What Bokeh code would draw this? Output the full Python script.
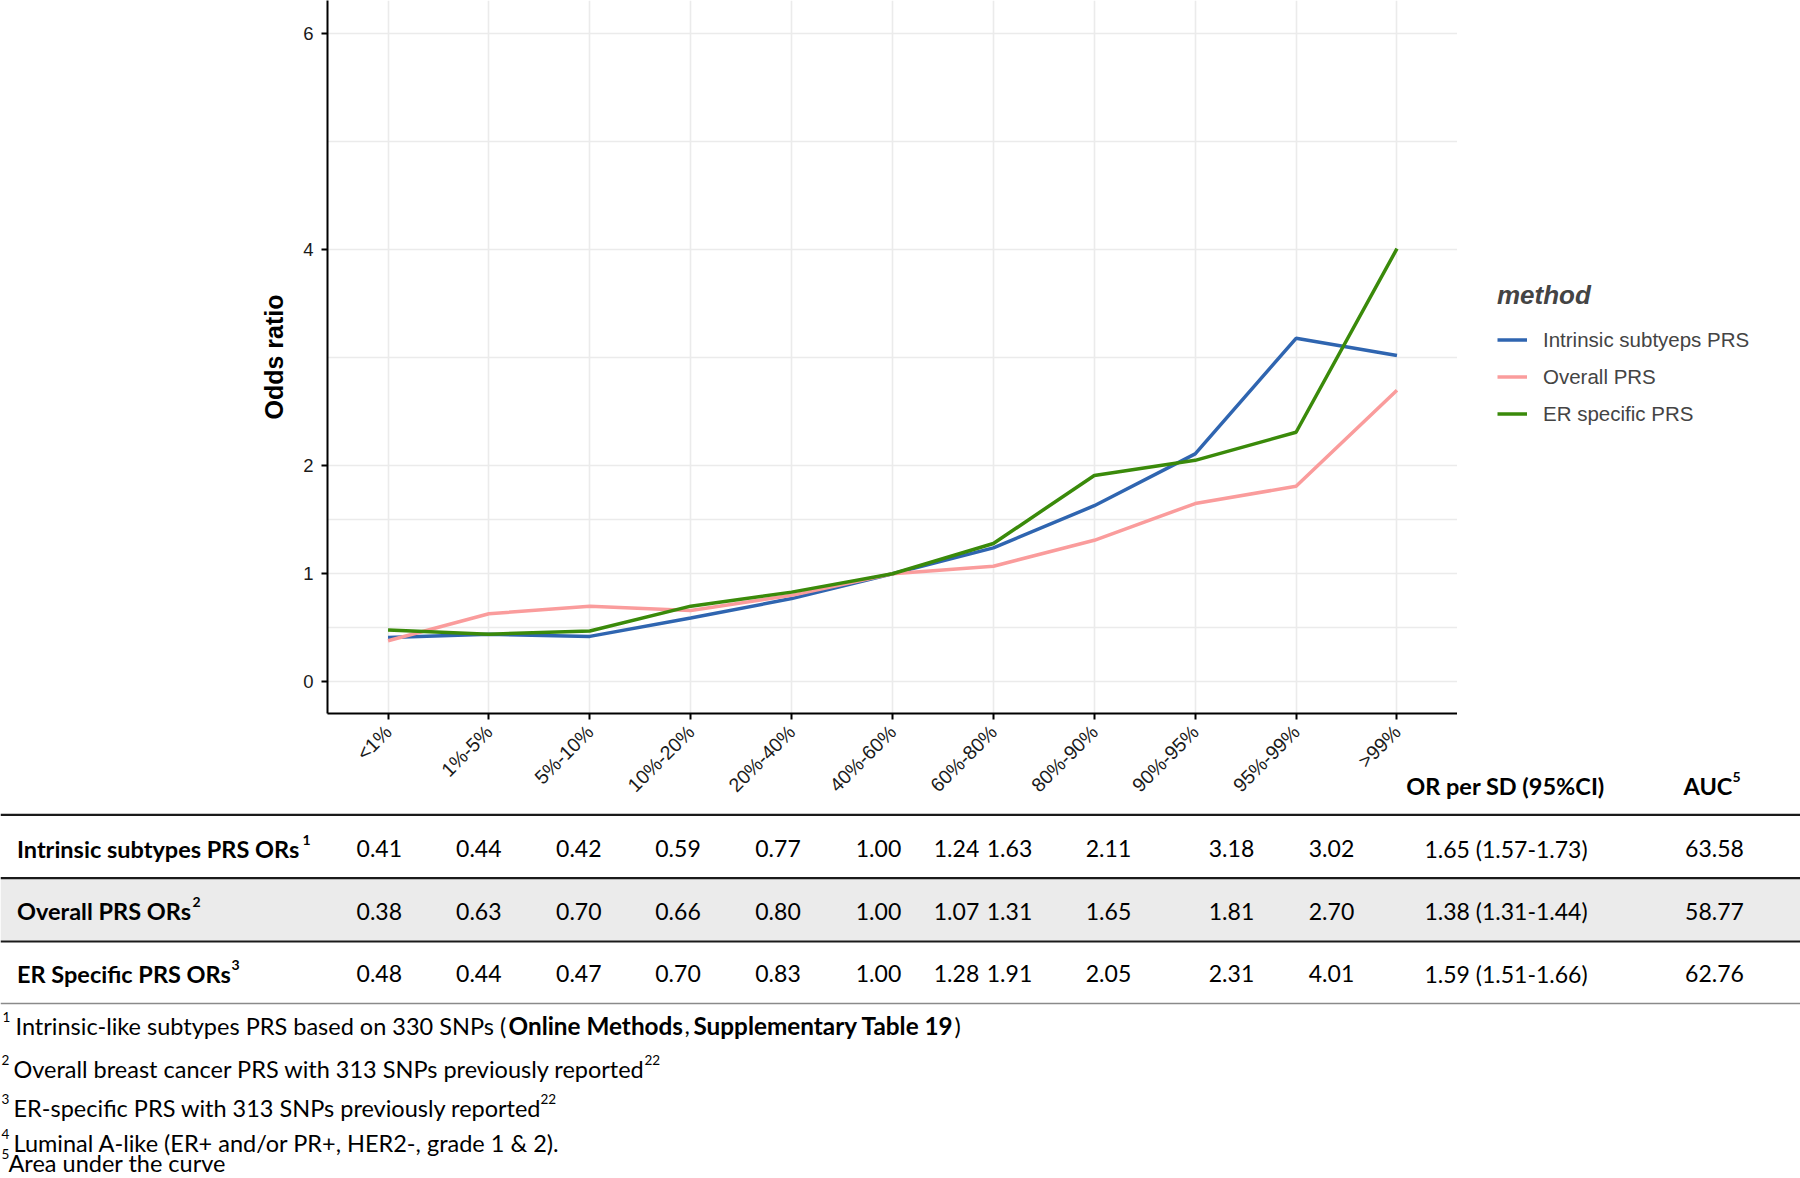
import math
from bokeh.plotting import figure
from bokeh.models import FactorRange, Range1d, FixedTicker, Legend, LegendItem, ColumnDataSource
from bokeh.layouts import column, row
from bokeh.embed import file_html
from bokeh.resources import INLINE
from bokeh.core.properties import value

# ---------------- data ----------------
categories = ["<1%", "1%-5%", "5%-10%", "10%-20%", "20%-40%", "40%-60%",
              "60%-80%", "80%-90%", "90%-95%", "95%-99%", ">99%"]
intrinsic_or = [0.41, 0.44, 0.42, 0.59, 0.77, 1.00, 1.24, 1.63, 2.11, 3.18, 3.02]
overall_or = [0.38, 0.63, 0.70, 0.66, 0.80, 1.00, 1.07, 1.31, 1.65, 1.81, 2.70]
er_or = [0.48, 0.44, 0.47, 0.70, 0.83, 1.00, 1.28, 1.91, 2.05, 2.31, 4.01]
series_names = ["Intrinsic subtyeps PRS", "Overall PRS", "ER specific PRS"]
y_ticks = [0, 1, 2, 4, 6]
y_minor = [0.5, 1.5, 3, 5]

row_labels = ["Intrinsic subtypes PRS ORs", "Overall PRS ORs", "ER Specific PRS ORs"]
row_marks = ["1", "2", "3"]
or_per_sd = ["1.65 (1.57-1.73)", "1.38 (1.31-1.44)", "1.59 (1.51-1.66)"]
auc = ["63.58", "58.77", "62.76"]

# ---------------- styles ----------------
COLORS = ["#2F65B0", "#FA9C9C", "#3A8A0A"]
ARIAL = "Liberation Sans"
CAL = "Lato"
GRID = "#EBEBEB"

TOTAL_W, TOTAL_H = 1800, 1178
CHART_W = 1457          # frame spans x 327 .. 1457
FRAME_B = 713           # frame spans y 0 .. 713
TOP_H = 812             # chart figure height (room for the slanted tick labels)
BOT_TOP = 768           # table figure starts at y 768 (overlaps the chart figure)
OVERLAP = TOP_H - BOT_TOP
BOT_H = TOTAL_H - BOT_TOP

series = [intrinsic_or, overall_or, er_or]

# ---------------- chart ----------------
p = figure(width=CHART_W, height=TOP_H,
           x_range=FactorRange(factors=categories, range_padding=0.1, range_padding_units="absolute"),
           y_range=Range1d(-0.294, 6.308),
           output_backend="svg", toolbar_location=None,
           min_border_left=327, min_border_right=0, min_border_top=0,
           min_border_bottom=TOP_H - FRAME_B)
p.frame_align = False
p.outline_line_color = None

renderers = []
for vals, col in zip(series, COLORS):
    src = ColumnDataSource(dict(x=categories, y=vals))
    renderers.append(p.line("x", "y", source=src, line_color=col, line_width=3.5))

p.yaxis.ticker = FixedTicker(ticks=y_ticks, minor_ticks=y_minor)
p.yaxis.axis_label = "Odds ratio"
p.yaxis.axis_label_text_font = ARIAL
p.yaxis.axis_label_text_font_size = "25px"
p.yaxis.axis_label_text_font_style = "bold"
p.yaxis.axis_label_text_color = "black"
p.yaxis.axis_label_standoff = 12
p.yaxis.major_label_standoff = 8
p.axis.major_label_text_font = ARIAL
p.yaxis.major_label_text_font_size = "18.5px"
p.xaxis.major_label_text_font_size = "19.5px"
p.axis.major_label_text_color = "#1a1a1a"
p.axis.axis_line_width = 2
p.axis.axis_line_color = "black"
p.axis.major_tick_line_color = "black"
p.axis.major_tick_line_width = 2
p.axis.major_tick_out = 6
p.axis.major_tick_in = 0
p.axis.minor_tick_out = 0
p.axis.minor_tick_in = 0
p.axis.minor_tick_line_color = None
p.xaxis.major_label_orientation = math.pi / 4
p.xaxis.major_label_standoff = 9

p.grid.grid_line_color = GRID
p.grid.grid_line_width = 1.6
p.ygrid.minor_grid_line_color = GRID
p.ygrid.minor_grid_line_width = 1.6

# ---------------- legend (own panel at the right) ----------------
lf = figure(width=TOTAL_W - CHART_W, height=712,
            x_range=FactorRange(factors=categories), y_range=Range1d(100, 101),
            output_backend="svg", toolbar_location=None, x_axis_type=None, y_axis_type=None,
            min_border=0)
lf.frame_align = False
lf.outline_line_color = None
lf.grid.visible = False
lrs = []
for vals, col in zip(series, COLORS):
    src = ColumnDataSource(dict(x=categories, y=vals))
    lrs.append(lf.line("x", "y", source=src, line_color=col, line_width=3.5))

legend = Legend(items=[LegendItem(label=n, renderers=[r]) for n, r in zip(series_names, lrs)],
                title="method", location="center_left", orientation="vertical")
legend.title_text_font = ARIAL
legend.title_text_font_style = "bold italic"
legend.title_text_font_size = "26px"
legend.title_standoff = 10
legend.label_text_font = ARIAL
legend.label_text_font_size = "20.5px"
legend.glyph_width = 30
legend.glyph_height = 37
legend.label_height = 37
legend.spacing = 0
legend.label_standoff = 16
legend.padding = 10
legend.margin = 40
legend.border_line_color = None
legend.background_fill_alpha = 0
lf.add_layout(legend)

# ---------------- table + footnotes ----------------
q = figure(width=TOTAL_W, height=BOT_H, x_range=Range1d(0, TOTAL_W),
           y_range=Range1d(TOTAL_H, BOT_TOP),
           output_backend="svg", toolbar_location=None, x_axis_type=None, y_axis_type=None,
           min_border=0)
q.frame_align = False
q.margin = (-OVERLAP, 0, 0, 0)
q.outline_line_color = None
q.grid.visible = False
q.background_fill_alpha = 0
q.border_fill_alpha = 0

TXT = dict(text_font=value(CAL), text_baseline="middle", text_color="black")

# header
q.text(x=[1505, 1683], y=[785, 785], text=["OR per SD (95%CI)", "AUC"], text_align=["center", "left"],
       text_font_style="bold", text_font_size="23.5px", **TXT)
q.text(x=[1732], y=[776], text=["5"], text_align="left", text_font_style="bold",
       text_font_size="14px", **TXT)

row_y = [848.3, 910.5, 973.3]
col_x = [378.8, 478.3, 578.3, 677.5, 777.5, 878, 956, 1009, 1108, 1231, 1331]

q.quad(left=[0], right=[TOTAL_W], top=[878.5], bottom=[940.2], fill_color="#EBEBEB", line_color=None)
q.segment(x0=[0, 0, 0], x1=[TOTAL_W] * 3, y0=[814.3, 877.7, 941], y1=[814.3, 877.7, 941],
          line_color="#1a1a1a", line_width=2.2)
q.segment(x0=[0], x1=[TOTAL_W], y0=[1003], y1=[1003], line_color="#8a8a8a", line_width=1.5)

# row labels
q.text(x=[16.5] * 3, y=row_y, text=row_labels, text_font_style="bold",
       text_font_size="23.5px", text_align="left", **TXT)
q.text(x=[302, 192, 231], y=[r - 9 for r in row_y], text=row_marks,
       text_font_style="bold", text_font_size="14px", text_align="left", **TXT)

# values
vx, vy, vt = [], [], []
for ry, vals in zip(row_y, series):
    for cx, v in zip(col_x, vals):
        vx.append(cx)
        vy.append(ry)
        vt.append(f"{v:.2f}")
q.text(x=vx, y=vy, text=vt, text_font_size="23px", text_align="center", **TXT)
q.text(x=[1505.5] * 3, y=row_y, text=or_per_sd, text_font_size="23px", text_align="center", **TXT)
q.text(x=[1714] * 3, y=row_y, text=auc, text_font_size="23px", text_align="center", **TXT)

# footnotes
FN = "23.5px"
SUP = "13.5px"
fy = [1025, 1068, 1107, 1142, 1162]
fn_reg_x = [15, 684, 954, 13, 13, 13, 8]
fn_reg_y = [fy[0], fy[0], fy[0], fy[1], fy[2], fy[3], fy[4]]
fn_reg_t = ["Intrinsic-like subtypes PRS based on 330 SNPs (", ",", ")",
            "Overall breast cancer PRS with 313 SNPs previously reported",
            "ER-specific PRS with 313 SNPs previously reported",
            "Luminal A-like (ER+ and/or PR+, HER2-, grade 1 & 2).",
            "Area under the curve"]
q.text(x=fn_reg_x, y=fn_reg_y, text=fn_reg_t, text_font_size=FN, text_align="left", **TXT)
q.text(x=[508, 693], y=[fy[0], fy[0]], text=["Online Methods", "Supplementary Table 19"],
       text_font_style="bold", text_font_size="24.3px", text_align="left", **TXT)
q.text(x=[2, 1, 1, 1, 1, 644, 540], y=[f - 9 for f in fy] + [fy[1] - 9, fy[2] - 9],
       text=["1", "2", "3", "4", "5", "22", "22"], text_font_size=SUP, text_align="left", **TXT)

top = row(p, lf, spacing=0)
layout = column(top, q, spacing=0)
open("out.html", "w").write(file_html(layout, INLINE))
